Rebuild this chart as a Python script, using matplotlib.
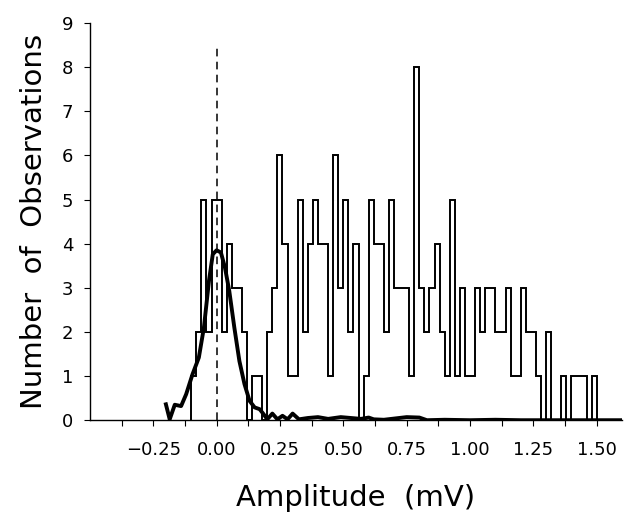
import numpy as np
import matplotlib
matplotlib.use("Agg")
import matplotlib.pyplot as plt

# histogram of amplitudes, 0.02 mV bins from -0.10 to 1.50
bin_start = -0.10
bin_width = 0.02
counts = [1, 2, 5, 2, 5, 5, 2, 4, 3, 3,
          2, 0, 1, 1, 0, 2, 3, 6, 4, 1,
          1, 5, 2, 4, 5, 4, 4, 1, 6, 3,
          5, 2, 4, 0, 1, 5, 4, 4, 2, 5,
          3, 3, 3, 1, 8, 3, 2, 3, 4, 2,
          1, 5, 1, 3, 1, 1, 3, 2, 3, 3,
          2, 2, 3, 1, 1, 3, 2, 2, 1, 0,
          2, 0, 0, 1, 0, 1, 1, 1, 0, 1]

# noise distribution curve
curve_x = [-0.20, -0.185, -0.165, -0.14, -0.12, -0.095, -0.07, -0.05, -0.03, -0.015,
           0.0, 0.017, 0.033, 0.05, 0.07, 0.09, 0.11, 0.13, 0.15, 0.17,
           0.185, 0.20, 0.22, 0.24, 0.26, 0.28, 0.30, 0.325, 0.36, 0.40,
           0.44, 0.49, 0.53, 0.57, 0.60, 0.62, 0.66, 0.75, 0.80, 0.83,
           0.90, 1.00, 1.10, 1.20, 1.30, 1.40, 1.50, 1.60]
curve_y = [0.36, 0.02, 0.35, 0.32, 0.59, 1.04, 1.42, 2.10, 3.16, 3.76,
           3.85, 3.80, 3.46, 2.93, 2.10, 1.34, 0.82, 0.44, 0.29, 0.25,
           0.14, 0.02, 0.15, 0.02, 0.10, 0.02, 0.15, 0.02, 0.05, 0.07,
           0.03, 0.07, 0.05, 0.03, 0.06, 0.02, 0.01, 0.07, 0.06, 0.00,
           0.01, 0.00, 0.01, 0.00, 0.00, 0.00, 0.00, 0.00]

xticks = [-0.25, 0.0, 0.25, 0.50, 0.75, 1.00, 1.25, 1.50]
xticklabels = ["\u22120.25", "0.00", "0.25", "0.50", "0.75", "1.00", "1.25", "1.50"]
yticks = list(range(10))

edges = bin_start + bin_width * np.arange(len(counts) + 1)

fig = plt.figure(figsize=(6.24, 5.22), dpi=100)
ax = fig.add_axes([0.144, 0.195, 0.853, 0.761])

ax.stairs(counts, edges, color="black", linewidth=1.4)
ax.plot(curve_x, curve_y, color="black", linewidth=2.8, solid_joinstyle="round")
ax.plot([0, 0], [0, 8.5], color="black", linewidth=1.1, linestyle=(0, (5, 3.5)))

ax.set_xlim(-0.5, 1.6)
ax.set_ylim(0, 9)
ax.set_xticks(xticks)
ax.set_xticklabels(xticklabels, fontsize=13)
ax.set_xticks(np.arange(-0.375, 1.6, 0.25), minor=True)
ax.set_yticks(yticks)
ax.set_yticklabels([str(v) for v in yticks], fontsize=13)
ax.tick_params(axis="both", which="both", direction="out", length=4, width=0.8)
ax.tick_params(axis="x", pad=11)
ax.tick_params(axis="y", pad=8)

for side in ["top", "right"]:
    ax.spines[side].set_visible(False)
for side in ["left", "bottom"]:
    ax.spines[side].set_linewidth(1.0)

ax.set_xlabel("Amplitude  (mV)", fontsize=21, labelpad=18)
ax.set_ylabel("Number  of  Observations", fontsize=21, labelpad=10)

fig.savefig("out.png", dpi=100)
